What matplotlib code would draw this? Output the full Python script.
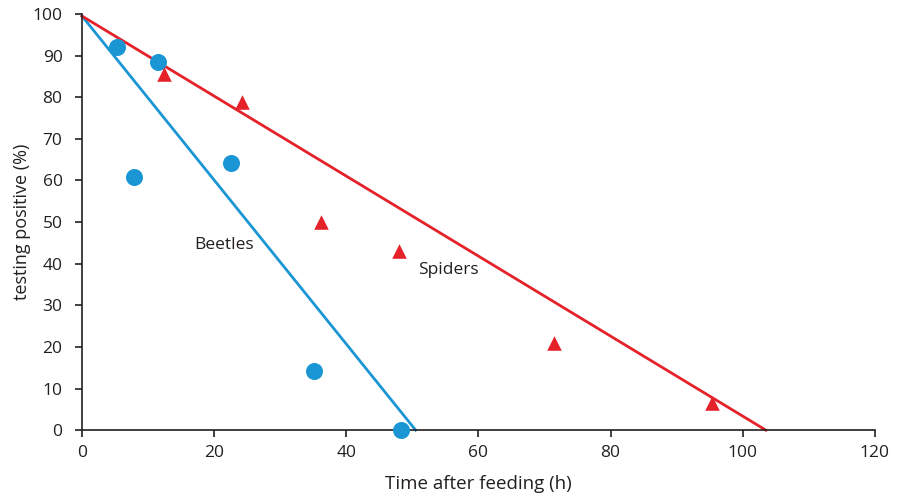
import matplotlib.pyplot as plt

plt.rcParams['font.family'] = ['Open Sans', 'DejaVu Sans']

# Beetles (circles)
beetle_x = [5.3, 11.5, 7.9, 22.5, 35.1, 48.3]
beetle_y = [92, 88.5, 60.8, 64.2, 14.2, 0]
beetle_line_x = [0, 50.5]
beetle_line_y = [99.5, 0]

# Spiders (triangles)
spider_x = [12.4, 24.2, 36.2, 48.0, 71.4, 95.3]
spider_y = [85.6, 78.8, 50.0, 43.0, 20.9, 6.5]
spider_line_x = [0, 103.5]
spider_line_y = [99.5, 0]

blue = '#1a96d4'
red = '#e52129'

fig = plt.figure(figsize=(9.01, 4.99), dpi=100)
ax = fig.add_axes([0.091, 0.138, 0.880, 0.834])

ax.plot(beetle_line_x, beetle_line_y, color=blue, lw=2, zorder=2, clip_on=False)
ax.plot(spider_line_x, spider_line_y, color=red, lw=2, zorder=2, clip_on=False)
ax.scatter(beetle_x, beetle_y, s=150, color=blue, marker='o', zorder=3, clip_on=False, linewidths=0)
ax.scatter(spider_x, spider_y, s=110, color=red, marker='^', zorder=3, clip_on=False, linewidths=0)

ax.text(21.5, 44.5, 'Beetles', fontsize=12.5, color='#231f20', va='center', ha='center')
ax.text(55.4, 38.5, 'Spiders', fontsize=12.5, color='#231f20', va='center', ha='center')

ax.set_xlim(0, 120)
ax.set_ylim(0, 100)
ax.set_xticks(range(0, 121, 20))
ax.set_yticks(range(0, 101, 10))
ax.spines['top'].set_visible(False)
ax.spines['right'].set_visible(False)
for s in ['left', 'bottom']:
    ax.spines[s].set_linewidth(1.2)
    ax.spines[s].set_color('#231f20')
ax.tick_params(direction='out', length=5, width=1.2, labelsize=12.5, colors='#231f20')
ax.tick_params(axis='y', pad=9)
ax.tick_params(axis='x', pad=6)

ax.set_xlabel('Time after feeding (h)', fontsize=13.5, color='#231f20', labelpad=10)
ax.set_ylabel('testing positive (%)', fontsize=13, color='#231f20', labelpad=1)

fig.savefig('out.png', dpi=100)
